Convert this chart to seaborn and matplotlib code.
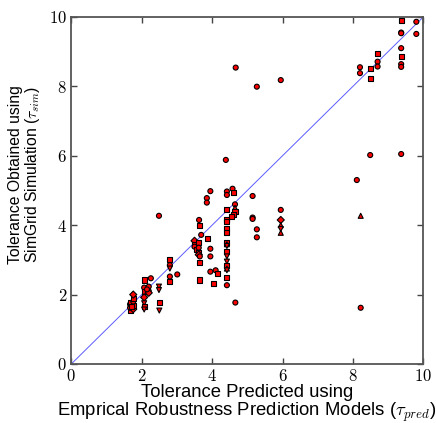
import pandas as pd
import matplotlib
matplotlib.use('Agg')
import matplotlib.pyplot as plt
from matplotlib.ticker import FuncFormatter, MultipleLocator
import seaborn as sns

# Werte (Vorhersage vs. Simulation)
x_pred = [1.67, 1.67, 1.67, 1.67, 1.76, 1.76, 1.76, 1.76, 1.76, 1.72,
          2.07, 2.07, 2.07, 2.07, 2.07, 2.07, 2.07, 2.2, 2.2, 2.2, 2.26, 2.15,
          2.49, 2.49, 2.49, 2.5, 2.5,
          2.8, 2.8, 2.8, 2.8, 2.8, 3.01,
          3.5, 3.5, 3.5, 3.55, 3.6, 3.6, 3.62, 3.65, 3.62, 3.63, 3.63, 3.69, 3.63, 3.63,
          3.85, 3.85, 3.95, 3.87, 3.95, 3.95, 3.95,
          4.1, 4.15, 4.05,
          4.42, 4.42, 4.42, 4.42, 4.42, 4.42, 4.42, 4.42, 4.42, 4.42, 4.42, 4.42,
          4.42, 4.42, 4.42, 4.42, 4.42, 4.42,
          4.58, 4.6, 4.65, 4.65, 4.65, 4.6, 4.55, 4.66, 4.67,
          5.15, 5.15, 5.15, 5.27, 5.27, 4.39, 5.27, 5.95,
          5.95, 5.95, 5.95, 5.95, 5.95,
          8.11, 8.22, 8.22, 8.49, 9.37, 8.2, 8.2, 8.49, 8.49, 8.7, 8.7, 8.7,
          9.37, 9.37, 9.37, 9.37, 9.37, 9.37, 9.37, 9.8, 9.8]
y_sim = [1.55, 1.62, 1.72, 1.78, 1.58, 1.68, 1.8, 1.9, 2.0, 1.65,
         2.42, 2.2, 2.1, 1.92, 1.75, 1.65, 1.57, 2.23, 2.1, 2.05, 2.47, 2.15,
         4.27, 2.23, 2.13, 1.77, 1.54,
         3.0, 2.85, 2.75, 2.52, 2.37, 2.58,
         3.55, 3.45, 3.38, 3.3, 3.5, 3.2, 3.15, 3.1, 3.35, 4.15, 4.0, 3.72, 2.42, 2.93,
         4.78, 4.65, 4.98, 3.63, 3.32, 3.1, 2.66,
         2.7, 2.6, 2.32,
         4.97, 4.87, 4.45, 4.15, 4.1, 3.9, 3.8, 3.5, 3.45, 3.4, 3.25, 3.1,
         2.95, 2.85, 2.75, 2.7, 2.5, 2.27,
         5.05, 4.93, 4.6, 4.5, 4.4, 4.3, 4.25, 1.77, 8.54,
         4.84, 4.22, 4.18, 3.88, 3.65, 5.88, 7.99, 8.18,
         4.44, 4.15, 4.0, 3.89, 3.78,
         5.3, 4.27, 1.62, 6.02, 6.05, 8.55, 8.38, 8.5, 8.24, 8.96, 8.71, 8.57,
         9.89, 9.55, 9.53, 9.1, 8.85, 8.64, 8.56, 9.86, 9.51]
# Modell-Gruppe pro Punkt (bestimmt die Markerform)
modell = list('saosd' 'sosds'
              'sosdvsv' 'ood' 'ooovv'
              'svsov' 'o'
              'sodsosssdoooso'
              'ssoooso'
              'ooo'
              'ssoossssss^vsv' 'vs^vs'
              'ooso^ssso'
              'ooooooooo'
              'od^v^'
              'o^ooooosssoos'
              'ooosooooo')[:len(x_pred)]

df = pd.DataFrame({'pred': x_pred, 'sim': y_sim, 'modell': modell})

plt.rcParams['mathtext.fontset'] = 'cm'
plt.rcParams['font.family'] = ['Liberation Sans', 'DejaVu Sans']

fig = plt.figure(figsize=(4.36, 4.23), dpi=100)
ax = fig.add_axes([0.1635, 0.1395, 0.8075, 0.8205])

# Diagonale y = x
ax.axline((0, 0), slope=1, color='#3333ff', lw=0.7, alpha=0.8, zorder=1)

sns.scatterplot(data=df, x='pred', y='sim', style='modell',
                markers={'o': 'o', 's': 's', 'd': 'D', 'v': 'v', '^': '^', 'a': 'o'},
                color='red', edgecolor='black', linewidth=0.8, s=13,
                legend=False, ax=ax, zorder=3)

ax.set_xlim(0, 10)
ax.set_ylim(0, 10)
ax.xaxis.set_major_locator(MultipleLocator(2))
ax.yaxis.set_major_locator(MultipleLocator(2))
fmt = FuncFormatter(lambda v, p: r'$%d$' % v)
ax.xaxis.set_major_formatter(fmt)
ax.yaxis.set_major_formatter(fmt)
ax.tick_params(direction='in', length=4, width=1, color='#444444',
               top=True, right=True, labelsize=12, pad=3)

for sp in ax.spines.values():
    sp.set_color('#555555')
    sp.set_linewidth(1.3)

ax.set_xlabel('Tolerance Predicted using\nEmprical Robustness Prediction Models ($\\tau_{pred}$)',
              fontsize=13.3, labelpad=0, linespacing=0.95)
ax.set_ylabel('Tolerance Obtained using\nSimGrid Simulation ($\\tau_{sim}$)',
              fontsize=11.3, linespacing=1.0)
ax.yaxis.set_label_coords(-0.083, 0.545)

fig.savefig('out.png', dpi=100)
